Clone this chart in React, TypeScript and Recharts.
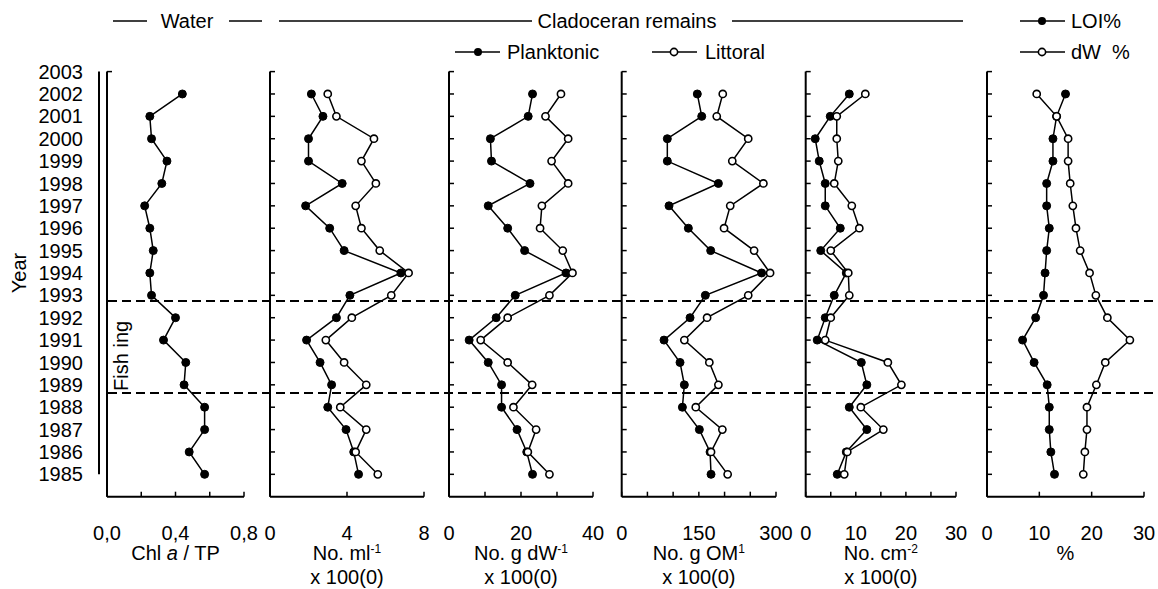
import React from 'react';
import { LineChart, Line, XAxis, YAxis, ReferenceLine } from 'recharts';

// ---------------- DATA (1985 -> 2002) ----------------
const years = [1985, 1986, 1987, 1988, 1989, 1990, 1991, 1992, 1993, 1994, 1995, 1996, 1997, 1998, 1999, 2000, 2001, 2002];
const yearTicks = [1985, 1986, 1987, 1988, 1989, 1990, 1991, 1992, 1993, 1994, 1995, 1996, 1997, 1998, 1999, 2000, 2001, 2002, 2003];

const chlTp = [0.57, 0.48, 0.57, 0.57, 0.45, 0.46, 0.33, 0.40, 0.26, 0.25, 0.27, 0.25, 0.22, 0.32, 0.35, 0.26, 0.25, 0.44];

const planktonicMl = [4.6, 4.35, 3.95, 3.0, 3.2, 2.6, 1.9, 3.45, 4.15, 6.8, 3.85, 3.1, 1.85, 3.75, 2.0, 2.0, 2.75, 2.15];
const littoralMl = [5.6, 4.45, 5.0, 3.65, 5.0, 3.85, 2.9, 4.25, 6.3, 7.2, 5.7, 4.75, 4.45, 5.5, 4.75, 5.4, 3.45, 3.0];

const planktonicDw = [23.2, 21.6, 18.9, 14.6, 14.6, 10.9, 5.6, 13.1, 18.4, 32.5, 21.0, 16.3, 10.9, 22.5, 11.8, 11.5, 22.0, 23.2];
const littoralDw = [27.9, 21.9, 24.2, 17.9, 23.1, 16.3, 8.8, 16.3, 27.9, 34.3, 31.6, 25.3, 25.8, 33.1, 28.5, 33.1, 26.8, 31.1];

const planktonicOm = [173.7, 171.8, 151, 118, 121.8, 113.4, 82.3, 132.9, 162.6, 272, 173, 129.6, 92, 188, 88.7, 88.7, 155.6, 147];
const littoralOm = [206, 173.7, 195.7, 144, 188, 170.4, 121.8, 166, 246, 288.5, 257.4, 199, 211, 275.5, 215, 246, 184.8, 196.5];

const planktonicCm = [6.3, 8.1, 12.2, 8.7, 12.2, 11.1, 2.3, 3.9, 5.7, 8.1, 3.0, 6.9, 3.9, 3.9, 2.7, 1.9, 4.9, 8.7];
const littoralCm = [7.7, 8.3, 15.5, 11.0, 19.1, 16.4, 3.9, 5.0, 8.7, 8.5, 5.0, 10.7, 9.2, 5.7, 6.5, 6.2, 6.2, 11.9];

const loiPct = [12.9, 12.2, 11.9, 11.9, 11.5, 9.0, 6.8, 9.3, 10.8, 11.1, 11.4, 11.9, 11.4, 11.4, 12.6, 12.6, 13.3, 15.0];
const dwPct = [18.4, 18.7, 19.1, 19.1, 20.9, 22.6, 27.3, 23.0, 20.8, 19.6, 17.8, 17.0, 16.4, 15.9, 15.5, 15.5, 13.3, 9.5];

const fishingStart = 1988.64;
const fishingEnd = 1992.75;

// ---------------- LAYOUT ----------------
const W = 1158;
const H = 589;
const TOP = 71.6;
const BOTTOM_Y = 496.7;
const XAXIS_H = 40;
const YAXIS_W = 2;
const FONT = '"Liberation Sans", Arial, Helvetica, sans-serif';
const FS = 20;

type SeriesDef = { key: string; values: number[]; hollow: boolean };
type PanelDef = {
  id: string;
  x0: number;
  x1: number;
  domain: [number, number];
  ticks: number[];
  labelTicks: number[];
  fmt: (v: number) => string;
  series: SeriesDef[];
  yTicks: number[];
  title: React.ReactNode;
  sub?: string;
};

const panels: PanelDef[] = [
  {
    id: 'chl', x0: 107, x1: 244, domain: [0, 0.8], ticks: [0, 0.2, 0.4, 0.6, 0.8], labelTicks: [0, 0.4, 0.8],
    fmt: (v) => v.toFixed(1).replace('.', ','),
    series: [{ key: 'chl', values: chlTp, hollow: false }],
    yTicks: [2003],
    title: (<><tspan>Chl </tspan><tspan fontStyle="italic">a</tspan><tspan>  / TP</tspan></>),
  },
  {
    id: 'ml', x0: 270, x1: 424, domain: [0, 8], ticks: [0, 4, 8], labelTicks: [0, 4, 8],
    fmt: (v) => String(v),
    series: [{ key: 'p', values: planktonicMl, hollow: false }, { key: 'l', values: littoralMl, hollow: true }],
    yTicks: yearTicks,
    title: (<><tspan>No. ml</tspan><tspan dy={-7} fontSize={12}>-1</tspan></>),
    sub: 'x 100(0)',
  },
  {
    id: 'dw', x0: 449, x1: 593, domain: [0, 40], ticks: [0, 10, 20, 30, 40], labelTicks: [0, 20, 40],
    fmt: (v) => String(v),
    series: [{ key: 'p', values: planktonicDw, hollow: false }, { key: 'l', values: littoralDw, hollow: true }],
    yTicks: yearTicks,
    title: (<><tspan>No. g dW</tspan><tspan dy={-7} fontSize={12}>-1</tspan></>),
    sub: 'x 100(0)',
  },
  {
    id: 'om', x0: 621.7, x1: 776, domain: [0, 300], ticks: [0, 50, 100, 150, 200, 250, 300], labelTicks: [0, 150, 300],
    fmt: (v) => String(v),
    series: [{ key: 'p', values: planktonicOm, hollow: false }, { key: 'l', values: littoralOm, hollow: true }],
    yTicks: yearTicks,
    title: (<><tspan>No. g OM</tspan><tspan dy={-7} fontSize={12}>1</tspan></>),
    sub: 'x 100(0)',
  },
  {
    id: 'cm', x0: 805.7, x1: 956, domain: [0, 30], ticks: [0, 5, 10, 15, 20, 25, 30], labelTicks: [0, 10, 20, 30],
    fmt: (v) => String(v),
    series: [{ key: 'p', values: planktonicCm, hollow: false }, { key: 'l', values: littoralCm, hollow: true }],
    yTicks: yearTicks,
    title: (<><tspan>No. cm</tspan><tspan dy={-7} fontSize={12}>-2</tspan></>),
    sub: 'x 100(0)',
  },
  {
    id: 'pct', x0: 987, x1: 1144, domain: [0, 30], ticks: [0, 10, 20, 30], labelTicks: [0, 10, 20, 30],
    fmt: (v) => String(v),
    series: [{ key: 'p', values: loiPct, hollow: false }, { key: 'l', values: dwPct, hollow: true }],
    yTicks: yearTicks,
    title: (<tspan>%</tspan>),
  },
];

const filledDot = { r: 4, fill: '#000', stroke: '#000', strokeWidth: 1 };
const hollowDot = { r: 3.6, fill: '#fff', stroke: '#000', strokeWidth: 1.6 };

function Panel({ p }: { p: PanelDef }) {
  const data = years.map((y, i) => {
    const row: Record<string, number> = { year: y };
    p.series.forEach((s) => { row[s.key] = s.values[i]; });
    return row;
  });
  const renderTitle = (props: any) => {
    const vb = props.viewBox || {};
    const cx = vb.x + vb.width / 2;
    const y = vb.y;
    return (
      <g>
        <text x={cx} y={y + 63} textAnchor="middle" fontSize={FS} fontFamily={FONT} fill="#000">{p.title}</text>
        {p.sub ? <text x={cx} y={y + 87} textAnchor="middle" fontSize={FS} fontFamily={FONT} fill="#000">{p.sub}</text> : null}
      </g>
    );
  };
  const renderXTick = (props: any) => {
    const { x, y, payload } = props;
    const v = payload.value as number;
    const show = p.labelTicks.some((t) => Math.abs(t - v) < 1e-9);
    return (
      <g>
        <line x1={x} x2={x} y1={y} y2={y - 5} stroke="#000" strokeWidth={1.5} />
        {show ? (
          <text x={x} y={y + 43} textAnchor="middle" fontSize={FS} fontFamily={FONT} fill="#000">{p.fmt(v)}</text>
        ) : null}
      </g>
    );
  };
  const renderYTick = (props: any) => {
    const { x, y } = props;
    return <line x1={x} x2={x + 5} y1={y} y2={y} stroke="#000" strokeWidth={1.5} />;
  };
  return (
    <div style={{ position: 'absolute', left: 0, top: 0 }}>
      <LineChart
        width={W}
        height={H}
        data={data}
        layout="vertical"
        margin={{ top: TOP, bottom: H - BOTTOM_Y - XAXIS_H, left: p.x0 - YAXIS_W, right: W - p.x1 }}
      >
        <XAxis
          type="number"
          domain={p.domain}
          ticks={p.ticks}
          interval={0}
          allowDataOverflow
          tickSize={0}
          tickMargin={0}
          tickLine={false}
          height={XAXIS_H}
          axisLine={{ stroke: '#000', strokeWidth: 2 }}
          tick={renderXTick}
          label={renderTitle}
        />
        <YAxis
          type="number"
          dataKey="year"
          domain={[1984, 2003]}
          reversed
          ticks={p.yTicks}
          interval={0}
          allowDataOverflow
          width={YAXIS_W}
          tickSize={0}
          tickMargin={0}
          tickLine={false}
          tick={renderYTick}
          axisLine={{ stroke: '#000', strokeWidth: 2 }}
        />
        {p.series.map((s) => (
          <Line
            key={s.key}
            dataKey={s.key}
            type="linear"
            stroke="#000"
            strokeWidth={1.5}
            dot={s.hollow ? hollowDot : filledDot}
            activeDot={false}
            isAnimationActive={false}
          />
        ))}
      </LineChart>
    </div>
  );
}

function YearAxis() {
  const data = years.map((y) => ({ year: y }));
  const renderYear = (props: any) => {
    const vb = props.viewBox || {};
    const cy = vb.y + vb.height / 2;
    return (
      <text x={19} y={cy} transform={`rotate(-90 19 ${cy})`} textAnchor="middle" dominantBaseline="central" fontSize={FS} fontFamily={FONT} fill="#000">Year</text>
    );
  };
  const y1985 = TOP + ((2003 - 1985) / (2003 - 1984)) * (BOTTOM_Y - TOP);
  return (
    <div style={{ position: 'absolute', left: 0, top: 0 }}>
      <LineChart width={130} height={H} data={data} layout="vertical" margin={{ top: TOP, bottom: H - y1985, left: 0, right: 20 }}>
        <XAxis type="number" domain={[0, 1]} hide />
        <YAxis
          type="number"
          dataKey="year"
          domain={[1985, 2003]}
          reversed
          ticks={yearTicks}
          interval={0}
          allowDataOverflow
          width={99}
          tickSize={6}
          tickMargin={10}
          tickLine={false}
          axisLine={{ stroke: '#000', strokeWidth: 2 }}
          tick={{ fontSize: FS, fill: '#000', fontFamily: FONT }}
          label={renderYear}
        />
      </LineChart>
    </div>
  );
}

function Overlay() {
  const data = years.map((y) => ({ year: y, v: 0.5 }));
  const renderFishing = (props: any) => {
    const vb = props.viewBox || {};
    const cx = vb.x + 13;
    const cy = vb.y - 37;
    return (
      <text x={cx} y={cy} transform={`rotate(-90 ${cx} ${cy})`} textAnchor="middle" dominantBaseline="central" fontSize={FS} fontFamily={FONT} fill="#000">Fish ing</text>
    );
  };
  return (
    <div style={{ position: 'absolute', left: 0, top: 0 }}>
      <LineChart width={W} height={H} data={data} margin={{ top: TOP, bottom: H - BOTTOM_Y, left: 108, right: 2 }}>
        <XAxis type="number" dataKey="v" domain={[0, 1]} hide />
        <YAxis type="number" domain={[1984, 2003]} hide width={0} allowDataOverflow />
        <ReferenceLine y={fishingEnd} stroke="#000" strokeWidth={2} strokeDasharray="9 5" ifOverflow="visible" />
        <ReferenceLine y={fishingStart} stroke="#000" strokeWidth={2} strokeDasharray="9 5" ifOverflow="visible" label={renderFishing} />
      </LineChart>
    </div>
  );
}

function Header() {
  const t = { fontSize: FS, fontFamily: FONT, fill: '#000' } as const;
  const r1 = 21;
  const r2 = 52;
  const b = 7;
  return (
    <svg width={W} height={70} style={{ position: 'absolute', left: 0, top: 0 }}>
      <g stroke="#000" strokeWidth={1.5}>
        <line x1={113} x2={147} y1={r1} y2={r1} />
        <line x1={229} x2={262} y1={r1} y2={r1} />
        <line x1={279} x2={532} y1={r1} y2={r1} />
        <line x1={732} x2={963} y1={r1} y2={r1} />
        <line x1={1020} x2={1065} y1={r1} y2={r1} />
        <line x1={455} x2={500} y1={r2} y2={r2} />
        <line x1={652} x2={697} y1={r2} y2={r2} />
        <line x1={1020} x2={1065} y1={r2} y2={r2} />
      </g>
      <circle cx={1042} cy={r1} r={4} fill="#000" />
      <circle cx={478} cy={r2} r={4} fill="#000" />
      <circle cx={674} cy={r2} r={3.6} fill="#fff" stroke="#000" strokeWidth={1.6} />
      <circle cx={1042} cy={r2} r={3.6} fill="#fff" stroke="#000" strokeWidth={1.6} />
      <text x={187} y={r1 + b} textAnchor="middle" {...t}>Water</text>
      <text x={627} y={r1 + b} textAnchor="middle" {...t}>Cladoceran remains</text>
      <text x={1071} y={r1 + b} {...t}>LOI%</text>
      <text x={507} y={r2 + b} {...t}>Planktonic</text>
      <text x={705} y={r2 + b} {...t}>Littoral</text>
      <text x={1071} y={r2 + b} {...t} style={{ whiteSpace: 'pre' }}>{'dW  %'}</text>
    </svg>
  );
}

export default function App() {
  return (
    <div style={{ position: 'absolute', left: 0, top: 0, width: W, height: H, background: '#fff', fontFamily: FONT }}>
      <Overlay />
      <YearAxis />
      {panels.map((p) => (
        <Panel key={p.id} p={p} />
      ))}
      <Header />
    </div>
  );
}
